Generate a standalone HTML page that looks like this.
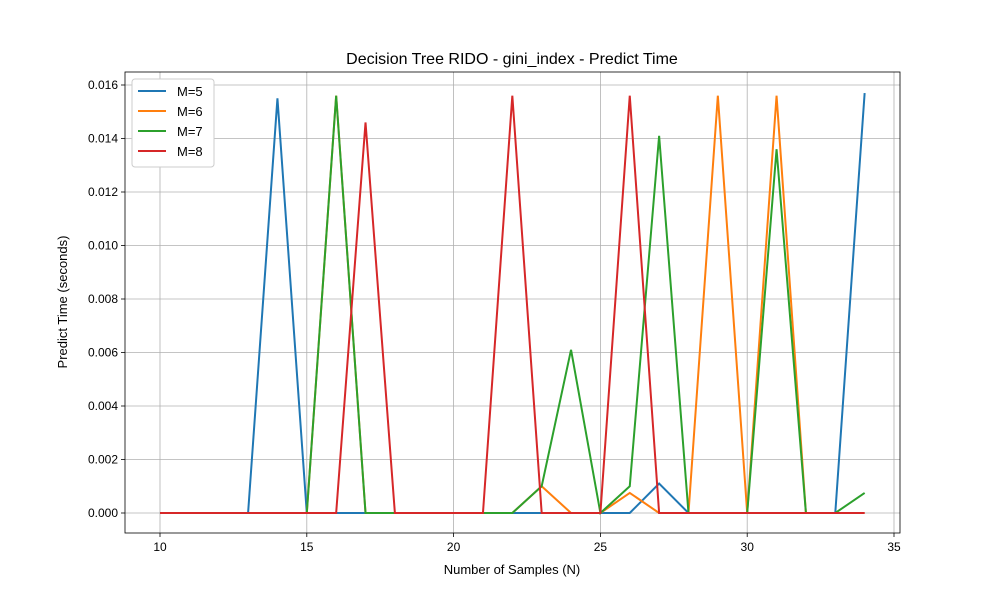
<!DOCTYPE html>
<html><head><meta charset="utf-8"><style>
body{margin:0;background:#fff;font-family:"Liberation Sans","DejaVu Sans",sans-serif}
</style></head><body>
<svg id="chart" width="1000" height="600" xmlns="http://www.w3.org/2000/svg"></svg>
<script>
const categories=[10,11,12,13,14,15,16,17,18,19,20,21,22,23,24,25,26,27,28,29,30,31,32,33,34];
const seriesM5=[0,0,0,0,0.0155,0,0,0,0,0,0,0,0,0,0,0,0,0.0011,0,0,0,0,0,0,0.0157];
const seriesM6=[0,0,0,0,0,0,0.0156,0,0,0,0,0,0,0.001,0,0,0.00075,0,0,0.0156,0,0.0156,0,0,0];
const seriesM7=[0,0,0,0,0,0,0.0156,0,0,0,0,0,0,0.001,0.0061,0,0.001,0.0141,0,0,0,0.0136,0,0,0.00075];
const seriesM8=[0,0,0,0,0,0,0,0.0146,0,0,0,0,0.0156,0,0,0,0.0156,0,0,0,0,0,0,0,0];
const xTicks=[10,15,20,25,30,35];
const yTicks=[0,0.002,0.004,0.006,0.008,0.010,0.012,0.014,0.016];
const seriesNames=["M=5","M=6","M=7","M=8"];
const colors=["#1f77b4","#ff7f0e","#2ca02c","#d62728"];
const NS="http://www.w3.org/2000/svg";
const svg=document.getElementById('chart');
const L=125,R=900,T=72,B=533;
const x=v=>160+(v-10)*(894-160)/25;
const y=v=>513-v*(513-85)/0.016;
function mk(tag,attrs,parent){const e=document.createElementNS(NS,tag);for(const k in attrs)e.setAttribute(k,attrs[k]);(parent||svg).appendChild(e);return e;}
const grid=mk('g',{});


xTicks.forEach(t=>{
 mk('line',{x1:x(t),x2:x(t),y1:T,y2:B,stroke:'#b0b0b0','stroke-width':0.8},grid);
 mk('line',{x1:x(t),x2:x(t),y1:B,y2:B+4,stroke:'#000','stroke-width':0.8});
 const tx=mk('text',{x:x(t),y:B+18,'font-size':12,'text-anchor':'middle'});
 
 
 tx.textContent=t;
});
yTicks.forEach(t=>{
 mk('line',{x1:L,x2:R,y1:y(t),y2:y(t),stroke:'#b0b0b0','stroke-width':0.8},grid);
 mk('line',{x1:L-4,x2:L,y1:y(t),y2:y(t),stroke:'#000','stroke-width':0.8});
 const tx=mk('text',{x:L-7,y:y(t)+4,'font-size':12,'text-anchor':'end'});
 
 
 tx.textContent=t.toFixed(3);
});
[seriesM5,seriesM6,seriesM7,seriesM8].forEach((s,i)=>{
 const p=mk('polyline',{points:s.map((v,j)=>x(categories[j])+','+y(v)).join(' '),fill:'none',stroke:colors[i],'stroke-width':2});
 
 
});
const frame=mk('rect',{x:L,y:T,width:R-L,height:B-T,fill:'none',stroke:'#000','stroke-width':0.8});


const title=mk('text',{x:512,y:64,'font-size':16,'text-anchor':'middle'});


title.textContent='Decision Tree RIDO - gini_index - Predict Time';
const xt=mk('text',{x:512,y:574,'font-size':13,'text-anchor':'middle'});


xt.textContent='Number of Samples (N)';
const yt=mk('text',{x:0,y:0,'font-size':13,'text-anchor':'middle',transform:'translate(67,302) rotate(-90)'});


yt.textContent='Predict Time (seconds)';
const lg=mk('g',{});


mk('rect',{x:132,y:79,width:82,height:88,fill:'#fff',stroke:'#ccc',rx:3},lg);
seriesNames.forEach((n,i)=>{
 const yy=91+i*20;
 mk('line',{x1:138,x2:166,y1:yy,y2:yy,stroke:colors[i],'stroke-width':2},lg);
 const t=mk('text',{x:177,y:yy+5,'font-size':13},lg);
 
 
 t.textContent=n;
});
</script>
</body></html>
